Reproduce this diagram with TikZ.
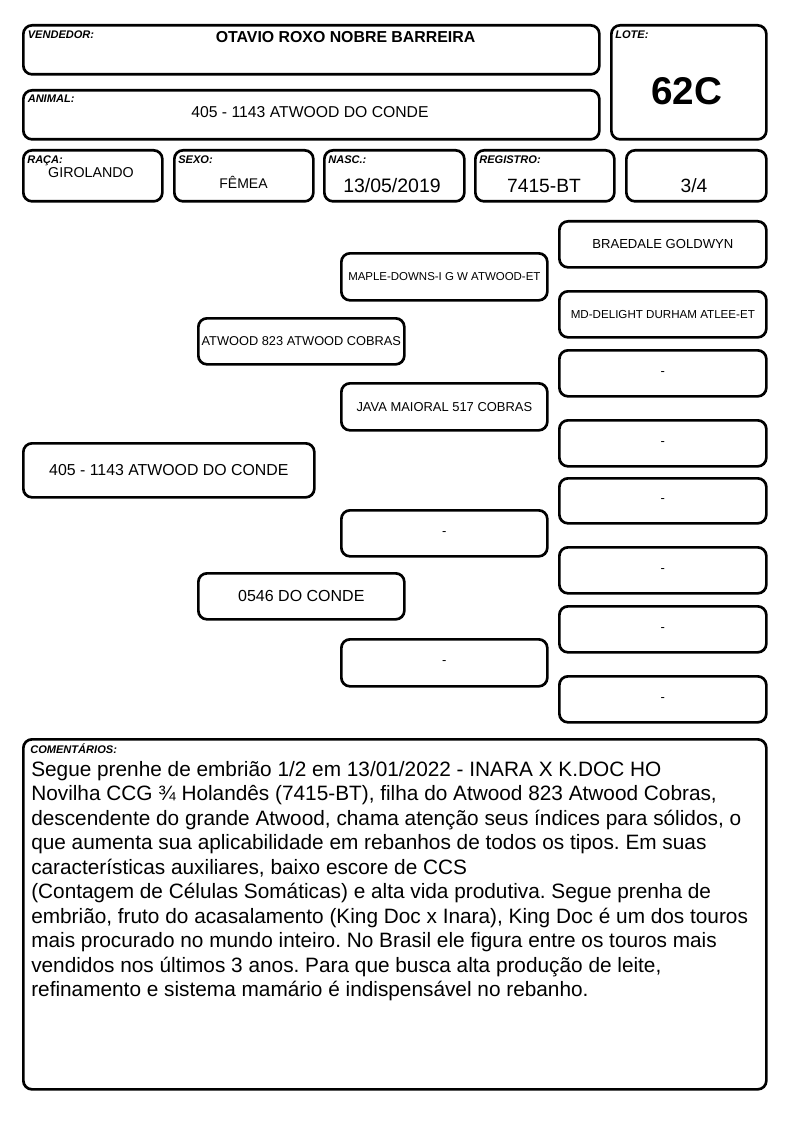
\documentclass[tikz,border=0pt]{standalone}
\usepackage{fontspec}
\setmainfont{Liberation Sans}
\usetikzlibrary{positioning}
\newcommand{\sz}[1]{\fontsize{#1}{#1}\selectfont}
\frenchspacing

\begin{document}
\begin{tikzpicture}
[x=0.75pt, y=-0.75pt,
  cell/.style 2 args={draw, line width=2pt, rounded corners=6.5pt, anchor=north west,
    inner sep=0pt, minimum width=#1*0.75pt, minimum height=#2*0.75pt},
  tag/.style={anchor=base west, inner sep=0pt, font=\sz{8.3pt}\bfseries\itshape},
  value/.style={anchor=base, inner sep=0pt}]
\useasboundingbox (0,0) rectangle (794,1123);
%% header
\node[cell={576}{49}] (vendedor) at (22,24) {};
\node[tag] (vendedortag) at (27.5,39) {VENDEDOR:};
\node[value, font=\sz{11.9pt}\bfseries] (vendedorval) at (345.5,43) {OTAVIO ROXO NOBRE BARREIRA};
\node[cell={155}{114}] (lote) at (610,24) {};
\node[tag] (lotetag) at (615,39) {LOTE:};
\node[value, font=\sz{29pt}\bfseries] (loteval) at (686.5,105) {62C};
\node[cell={576}{49}] (animal) at (22,89) {};
\node[tag] (animaltag) at (27.5,103) {ANIMAL:};
\node[value, font=\sz{11.8pt}] (animalval) at (310,118) {405 - 1143 ATWOOD DO CONDE};
%% data row
\foreach \id/\x/\w/\tagtxt/\vx/\vy/\size/\txt in {
  raca/22/139/RAÇA:/91/178/10.7pt/GIROLANDO,
  sexo/173/139/SEXO:/243.5/189/10.5pt/FÊMEA,
  nasc/323/140/NASC.:/392/193/14.6pt/{13/05/2019},
  registro/474/139/REGISTRO:/544/193/14.4pt/7415-BT}
{
  \node[cell={\w}{51}] (\id) at (\x,149) {};
  \node[tag] (\id tag) at (\x+5,163.5) {\tagtxt};
  \node[value, font=\sz{\size}] (\id val) at (\vx,\vy) {\txt};
}
\node[cell={140}{51}] (grau) at (625,149) {};
\node[value, font=\sz{14.4pt}] (grauval) at (694,193) {3/4};
%% pedigree
\foreach \id/\x/\y/\w/\h/\size/\txt in {
  filho/22/442/291/54/11.9pt/405 - 1143 ATWOOD DO CONDE,
  p/197/317/206/46/9.6pt/ATWOOD 823 ATWOOD COBRAS,
  m/197/572/206/46/12pt/0546 DO CONDE,
  pp/340/252/206/47/8.6pt/MAPLE-DOWNS-I G W ATWOOD-ET,
  pm/340/382/206/47/9.7pt/JAVA MAIORAL 517 COBRAS,
  mp/340/509/206/46/9.7pt/-,
  mm/340/638/206/47/9.7pt/-,
  ppp/558/220/207/46/9.8pt/BRAEDALE GOLDWYN,
  ppm/558/290/207/46/8.7pt/MD-DELIGHT DURHAM ATLEE-ET,
  pmp/558/349/207/46/9.7pt/-,
  pmm/558/419/207/46/9.7pt/-,
  mpp/558/477/207/45/9.7pt/-,
  mpm/558/546/207/46/9.7pt/-,
  mmp/558/605/207/46/9.7pt/-,
  mmm/558/675/207/46/9.7pt/-}
{
  \node[cell={\w}{\h}, font=\sz{\size}] (\id) at (\x,\y) {\txt};
}
%% comments
\node[cell={743}{350}] (comentarios) at (22,738) {};
\node[tag] (comentariostag) at (30,753) {COMENTÁRIOS:};
\foreach \txt [count=\i from 0] in {
  {Segue prenhe de embrião 1/2 em 13/01/2022 - INARA X K.DOC HO},
  {Novilha CCG ¾ Holandês (7415-BT), filha do Atwood 823 Atwood Cobras,},
  {descendente do grande Atwood, chama atenção seus índices para sólidos, o},
  {que aumenta sua aplicabilidade em rebanhos de todos os tipos. Em suas},
  {características auxiliares, baixo escore de CCS},
  {(Contagem de Células Somáticas) e alta vida produtiva. Segue prenha de},
  {embrião, fruto do acasalamento (King Doc x Inara), King Doc é um dos touros},
  {mais procurado no mundo inteiro. No Brasil ele figura entre os touros mais},
  {vendidos nos últimos 3 anos. Para que busca alta produção de leite,},
  {refinamento e sistema mamário é indispensável no rebanho.}}
{
  \node[anchor=base west, inner sep=0pt, font=\sz{15.6pt}] (line\i) at (31,{776+24.5*\i}) {\txt};
}
\end{tikzpicture}
\end{document}
